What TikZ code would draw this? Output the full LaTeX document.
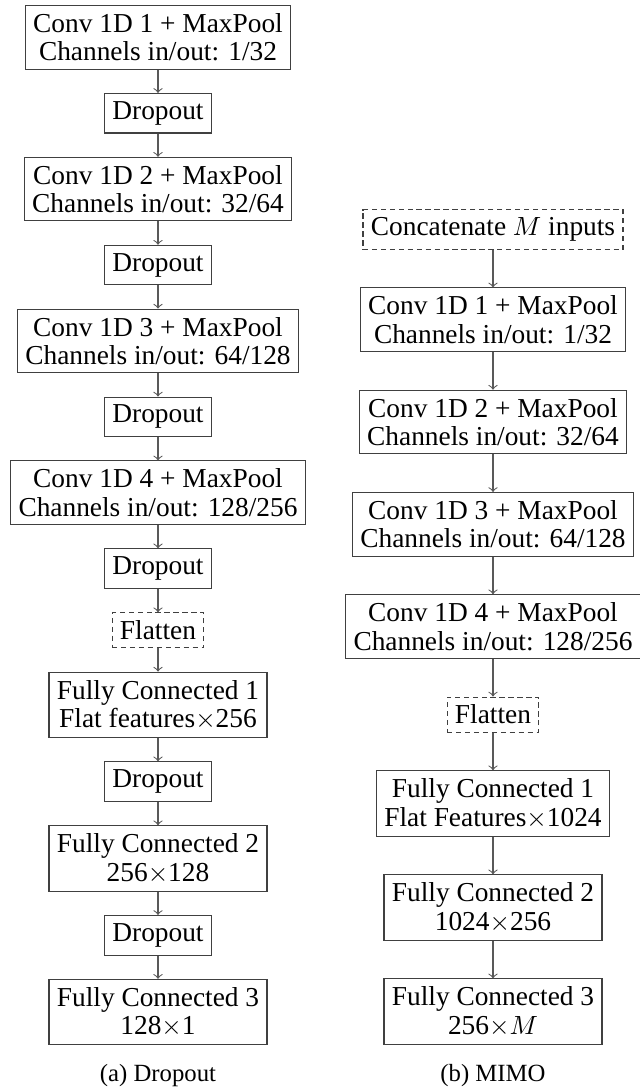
\documentclass[tikz,border=0pt]{standalone}
\usepackage{fontspec}
\setmainfont{Liberation Serif}
\usetikzlibrary{positioning}
\tikzset{
    x=0.38pt, y=0.38pt,
    layer/.style={
        draw=black!75,
        align=center,
        inner sep=3pt,
        font=\fontsize{10.4pt}{10.8pt}\selectfont
    },
    virtual/.style={
        layer,
        dash pattern=on 2pt off 1.4pt
    },
    subcaption/.style={
        font=\fontsize{9.4pt}{11pt}\selectfont
    },
    every edge/.append style={
        draw=black!65,
        ->
    }
}

\begin{document}
\begin{tikzpicture}
    \useasboundingbox (0,0) rectangle (640,-1091);

    % (a) dropout network
    \begin{scope}[node distance=8.85pt]
        \node[layer, anchor=north] (conv1) at (158,-5) {Conv 1D 1 + MaxPool\\Channels in/out: 1/32};
        \node[layer, below=of conv1] (drop1) {Dropout};
        \node[layer, below=of drop1] (conv2) {Conv 1D 2 + MaxPool\\Channels in/out: 32/64};
        \node[layer, below=of conv2] (drop2) {Dropout};
        \node[layer, below=of drop2] (conv3) {Conv 1D 3 + MaxPool\\Channels in/out: 64/128};
        \node[layer, below=of conv3] (drop3) {Dropout};
        \node[layer, below=of drop3] (conv4) {Conv 1D 4 + MaxPool\\Channels in/out: 128/256};
        \node[layer, below=of conv4] (drop4) {Dropout};
        \node[virtual, below=of drop4] (flat) {Flatten};
        \node[layer, below=of flat] (fc1) {Fully Connected 1\\Flat features$\times$256};
        \node[layer, below=of fc1] (drop5) {Dropout};
        \node[layer, below=of drop5] (fc2) {Fully Connected 2\\256$\times$128};
        \node[layer, below=of fc2] (drop6) {Dropout};
        \node[layer, below=of drop6] (fc3) {Fully Connected 3\\128$\times$1};

        \draw (conv1) edge (drop1);
        \draw (drop1) edge (conv2);
        \draw (conv2) edge (drop2);
        \draw (drop2) edge (conv3);
        \draw (conv3) edge (drop3);
        \draw (drop3) edge (conv4);
        \draw (conv4) edge (drop4);
        \draw (drop4) edge (flat);
        \draw (flat) edge (fc1);
        \draw (fc1) edge (drop5);
        \draw (drop5) edge (fc2);
        \draw (fc2) edge (drop6);
        \draw (drop6) edge (fc3);
    \end{scope}

    % (b) MIMO network
    \begin{scope}[node distance=14.3pt]
        \node[virtual, anchor=north] (concat) at (493,-209) {Concatenate $M$ inputs};
        \node[layer, below=of concat] (mconv1) {Conv 1D 1 + MaxPool\\Channels in/out: 1/32};
        \node[layer, below=of mconv1] (mconv2) {Conv 1D 2 + MaxPool\\Channels in/out: 32/64};
        \node[layer, below=of mconv2] (mconv3) {Conv 1D 3 + MaxPool\\Channels in/out: 64/128};
        \node[layer, below=of mconv3] (mconv4) {Conv 1D 4 + MaxPool\\Channels in/out: 128/256};
        \node[virtual, below=of mconv4] (mflat) {Flatten};
        \node[layer, below=of mflat] (mfc1) {Fully Connected 1\\Flat Features$\times$1024};
        \node[layer, below=of mfc1] (mfc2) {Fully Connected 2\\1024$\times$256};
        \node[layer, below=of mfc2] (mfc3) {Fully Connected 3\\256$\times M$};

        \draw (concat) edge (mconv1);
        \draw (mconv1) edge (mconv2);
        \draw (mconv2) edge (mconv3);
        \draw (mconv3) edge (mconv4);
        \draw (mconv4) edge (mflat);
        \draw (mflat) edge (mfc1);
        \draw (mfc1) edge (mfc2);
        \draw (mfc2) edge (mfc3);
    \end{scope}

    \node[subcaption] (capa) at (158,-1076) {(a) Dropout};
    \node[subcaption] (capb) at (493,-1076) {(b) MIMO};
\end{tikzpicture}
\end{document}
